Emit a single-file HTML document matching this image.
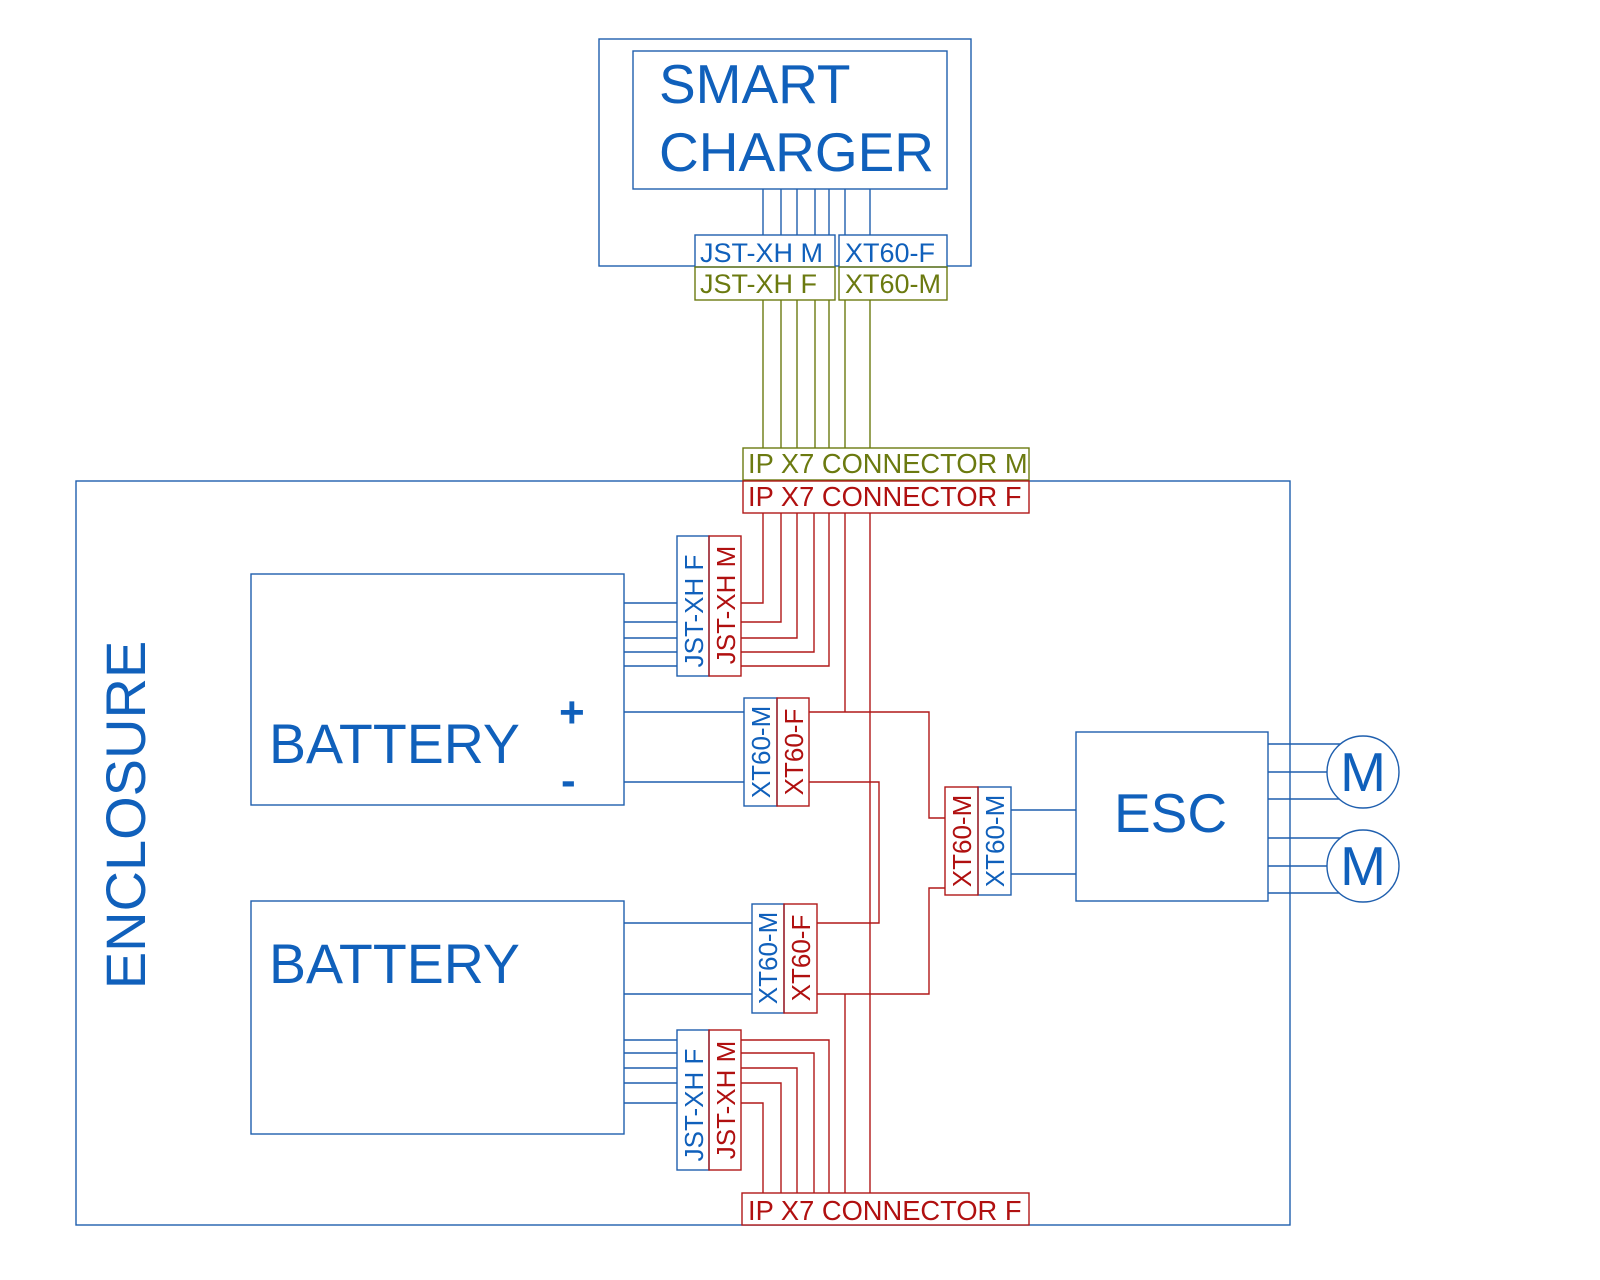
<!DOCTYPE html>
<html><head><meta charset="utf-8"><style>html,body{margin:0;padding:0;background:#fff}svg{display:block}text{font-family:"Liberation Sans",Arial,sans-serif}</style></head><body>
<svg width="1600" height="1280" viewBox="0 0 1600 1280" xmlns="http://www.w3.org/2000/svg">
<g fill="none" stroke-width="1.4">
<g stroke="#1f5fae">
<rect x="599" y="39" width="372" height="227"/>
<rect x="633" y="51" width="314" height="138" fill="#fff"/>
<path d="M763 189V235M781 189V235M797 189V235M815 189V235M829 189V235M845 189V235M870 189V235"/>
<rect x="695" y="235" width="140" height="32" fill="#fff"/>
<rect x="839" y="235" width="108" height="32" fill="#fff"/>
<rect x="76" y="481" width="1214" height="744"/>
<rect x="251" y="574" width="373" height="231"/>
<rect x="251" y="901" width="373" height="233"/>
<path d="M624 603H677M624 622H677M624 638H677M624 652H677M624 666H677M624 712H744M624 782H744"/>
<path d="M624 923H752M624 994H752M624 1040H677M624 1053H677M624 1068H677M624 1083H677M624 1103H677"/>
<rect x="677" y="536" width="32" height="140"/>
<rect x="744" y="698" width="33" height="108"/>
<rect x="752" y="904" width="32" height="109"/>
<rect x="677" y="1030" width="32" height="140"/>
<rect x="978" y="787" width="33" height="108"/>
<path d="M1011 810H1076M1011 874H1076"/>
<rect x="1076" y="732" width="192" height="169"/>
<path d="M1268 744H1340M1268 772H1327M1268 799H1340M1268 838H1340M1268 866H1327M1268 893H1340"/>
<circle cx="1363" cy="772" r="36" fill="#fff"/>
<circle cx="1363" cy="866" r="36" fill="#fff"/>
</g>
<g stroke="#6b7a10">
<rect x="695" y="267" width="140" height="33"/>
<rect x="839" y="267" width="108" height="33"/>
<path d="M763 300V448M781 300V448M797 300V448M815 300V448M829 300V448M845 300V448M870 300V448"/>
<rect x="743" y="448" width="286" height="32" fill="#fff"/>
</g>
<g stroke="#b01818">
<rect x="743" y="481" width="286" height="32" fill="#fff"/>
<rect x="709" y="536" width="32" height="140"/>
<rect x="777" y="698" width="32" height="108"/>
<rect x="784" y="904" width="33" height="109"/>
<rect x="709" y="1030" width="32" height="140"/>
<rect x="945" y="787" width="33" height="108"/>
<rect x="742" y="1193" width="287" height="32" fill="#fff"/>
<path d="M763 513V603H741M781 513V622H741M797 513V638H741M814 513V652H741M829 513V666H741"/>
<path d="M845 513V712M870 513V1193"/>
<path d="M809 712H929V818H945M809 782H879V923H817"/>
<path d="M817 994H929V888H945M845 994V1193"/>
<path d="M741 1040H829V1193M741 1053H814V1193M741 1068H797V1193M741 1083H781V1193M741 1103H763V1193"/>
</g>
</g>
<g fill="#1060bb">
<text x="659" y="103" font-size="55">SMART</text>
<text x="659" y="171" font-size="55">CHARGER</text>
<text x="700" y="262" font-size="27">JST-XH M</text>
<text x="845" y="262" font-size="27">XT60-F</text>
<text x="269" y="763" font-size="55.5">BATTERY</text>
<text x="269" y="983" font-size="55.5">BATTERY</text>
<text x="559" y="727" font-size="44" font-weight="bold">+</text>
<text x="561" y="795" font-size="44" font-weight="bold">-</text>
<text x="1114" y="832" font-size="55">ESC</text>
<text x="1363" y="791" font-size="55" text-anchor="middle">M</text>
<text x="1363" y="885" font-size="55" text-anchor="middle">M</text>
<text transform="translate(145 815) rotate(-90)" font-size="56" text-anchor="middle">ENCLOSURE</text>
<text transform="translate(703 611) rotate(-90)" font-size="26" text-anchor="middle">JST-XH F</text>
<text transform="translate(703 1105) rotate(-90)" font-size="26" text-anchor="middle">JST-XH F</text>
<text transform="translate(770 752) rotate(-90)" font-size="26" text-anchor="middle">XT60-M</text>
<text transform="translate(777 958) rotate(-90)" font-size="26" text-anchor="middle">XT60-M</text>
<text transform="translate(1004 841) rotate(-90)" font-size="26" text-anchor="middle">XT60-M</text>
</g>
<g fill="#6b7a10">
<text x="700" y="293" font-size="27">JST-XH F</text>
<text x="845" y="293" font-size="27">XT60-M</text>
<text x="748" y="473" font-size="27.3">IP X7 CONNECTOR M</text>
</g>
<g fill="#b01010">
<text x="748" y="506" font-size="27.3">IP X7 CONNECTOR F</text>
<text x="748" y="1220" font-size="27.3">IP X7 CONNECTOR F</text>
<text transform="translate(735 605) rotate(-90)" font-size="26" text-anchor="middle">JST-XH M</text>
<text transform="translate(735 1100) rotate(-90)" font-size="26" text-anchor="middle">JST-XH M</text>
<text transform="translate(803 752) rotate(-90)" font-size="26" text-anchor="middle">XT60-F</text>
<text transform="translate(810 958) rotate(-90)" font-size="26" text-anchor="middle">XT60-F</text>
<text transform="translate(971 841) rotate(-90)" font-size="26" text-anchor="middle">XT60-M</text>
</g>
</svg>
</body></html>
